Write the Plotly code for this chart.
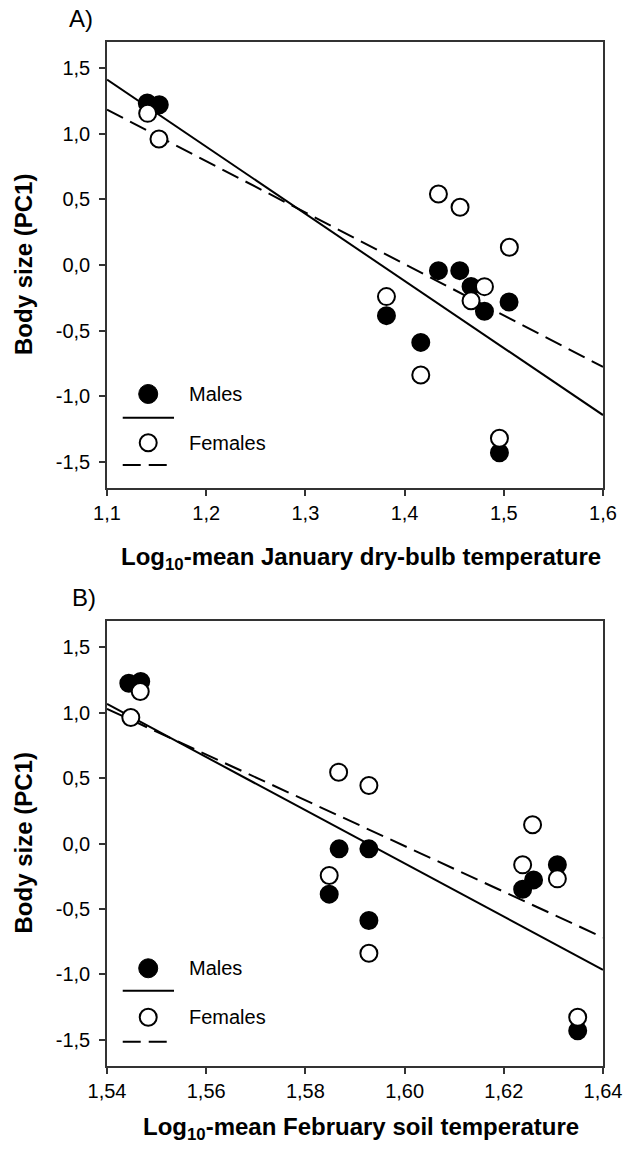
import plotly.graph_objects as go

# ---------------- data ----------------
# Panel A: Log10-mean January dry-bulb temperature
a_male_x = [1.1406, 1.1527, 1.4341, 1.4556, 1.4670, 1.4805, 1.5053, 1.3817, 1.4163, 1.4956]
a_male_y = [1.235, 1.222, -0.043, -0.043, -0.163, -0.353, -0.282, -0.386, -0.590, -1.431]
a_female_x = [1.1410, 1.1524, 1.4341, 1.4559, 1.5056, 1.4805, 1.4670, 1.3817, 1.4163, 1.4956]
a_female_y = [1.156, 0.961, 0.541, 0.440, 0.135, -0.165, -0.272, -0.241, -0.839, -1.321]
a_male_fit_x = [1.10, 1.60]
a_male_fit_y = [1.413, -1.144]
a_female_fit_x = [1.10, 1.60]
a_female_fit_y = [1.184, -0.777]

# Panel B: Log10-mean February soil temperature
b_male_x = [1.5444, 1.5468, 1.5868, 1.5928, 1.5848, 1.5928, 1.6238, 1.6260, 1.6308, 1.6349]
b_male_y = [1.225, 1.238, -0.041, -0.041, -0.387, -0.588, -0.349, -0.278, -0.163, -1.431]
b_female_x = [1.5467, 1.5448, 1.5867, 1.5928, 1.6258, 1.6238, 1.6308, 1.5848, 1.5928, 1.6349]
b_female_y = [1.161, 0.963, 0.545, 0.443, 0.143, -0.163, -0.270, -0.244, -0.838, -1.327]
b_male_fit_x = [1.54, 1.64]
b_male_fit_y = [1.067, -0.965]
b_female_fit_x = [1.54, 1.64]
b_female_fit_y = [1.029, -0.718]

y_tickvals = [-1.5, -1.0, -0.5, 0.0, 0.5, 1.0, 1.5]
y_ticktext = ["-1,5", "-1,0", "-0,5", "0,0", "0,5", "1,0", "1,5"]
a_x_tickvals = [1.1, 1.2, 1.3, 1.4, 1.5, 1.6]
a_x_ticktext = ["1,1", "1,2", "1,3", "1,4", "1,5", "1,6"]
b_x_tickvals = [1.54, 1.56, 1.58, 1.60, 1.62, 1.64]
b_x_ticktext = ["1,54", "1,56", "1,58", "1,60", "1,62", "1,64"]

legend_labels = ["Males", "Females"]
panel_labels = ["A)", "B)"]
x_titles = ["<b>Log<sub>10</sub>-mean January dry-bulb temperature</b>",
            "<b>Log<sub>10</sub>-mean February soil temperature</b>"]
y_title = "<b>Body size (PC1)</b>"

# ---------------- figure ----------------
W, H = 628, 1153
FONT = "Arial, Liberation Sans, sans-serif"
DASH = "18px,8px"
MS = 17

fig = go.Figure()


def add_panel(xa, ya, mx, my, fx, fy, mfx, mfy, ffx, ffy):
    fig.add_trace(go.Scatter(x=mfx, y=mfy, mode="lines", xaxis=xa, yaxis=ya,
                             line=dict(color="black", width=2), showlegend=False))
    fig.add_trace(go.Scatter(x=ffx, y=ffy, mode="lines", xaxis=xa, yaxis=ya,
                             line=dict(color="black", width=2, dash=DASH), showlegend=False))
    fig.add_trace(go.Scatter(x=mx, y=my, mode="markers", xaxis=xa, yaxis=ya,
                             marker=dict(size=MS, color="black", line=dict(color="black", width=2)),
                             showlegend=False))
    fig.add_trace(go.Scatter(x=fx, y=fy, mode="markers", xaxis=xa, yaxis=ya,
                             marker=dict(size=MS, color="white", line=dict(color="black", width=2)),
                             showlegend=False))


add_panel("x", "y", a_male_x, a_male_y, a_female_x, a_female_y,
          a_male_fit_x, a_male_fit_y, a_female_fit_x, a_female_fit_y)
add_panel("x2", "y2", b_male_x, b_male_y, b_female_x, b_female_y,
          b_male_fit_x, b_male_fit_y, b_female_fit_x, b_female_fit_y)

left, right = 107, 603
xdom = [left / W, right / W]
a_top, a_bot = 42, 488
b_top, b_bot = 621, 1066
ydomA = [1 - a_bot / H, 1 - a_top / H]
ydomB = [1 - b_bot / H, 1 - b_top / H]

axis_common = dict(showline=True, linecolor="#333", linewidth=1.5, mirror=True,
                   ticks="outside", ticklen=6, tickwidth=1.5, tickcolor="#333",
                   showgrid=False, zeroline=False, automargin=False,
                   tickfont=dict(family=FONT, size=20, color="black"))

fig.update_layout(
    width=W, height=H,
    margin=dict(l=0, r=0, t=0, b=0, pad=0, autoexpand=False),
    paper_bgcolor="white", plot_bgcolor="white",
    showlegend=False,
    font=dict(family=FONT, color="black"),
    xaxis=dict(domain=xdom, anchor="y", range=[1.1, 1.6],
               tickvals=a_x_tickvals, ticktext=a_x_ticktext, **axis_common),
    yaxis=dict(domain=ydomA, anchor="x", range=[-1.7, 1.7], ticklabelstandoff=5,
               tickvals=y_tickvals, ticktext=y_ticktext, **axis_common),
    xaxis2=dict(domain=xdom, anchor="y2", range=[1.54, 1.64],
                tickvals=b_x_tickvals, ticktext=b_x_ticktext, **axis_common),
    yaxis2=dict(domain=ydomB, anchor="x2", range=[-1.7, 1.7], ticklabelstandoff=5,
                tickvals=y_tickvals, ticktext=y_ticktext, **axis_common),
)

# ---------- panel labels, axis titles, legends ----------
panels = [
    dict(xr="x", yr="y", top=a_top, bot=a_bot, lab=(81, 19), xt_y=558,
         leg=dict(m=0.2108, ml=0.1576, f=0.1016, fl=0.0516)),
    dict(xr="x2", yr="y2", top=b_top, bot=b_bot, lab=(84, 598), xt_y=1128,
         leg=dict(m=0.2196, ml=0.1692, f=0.1094, fl=0.0546)),
]

for i, p in enumerate(panels):
    fig.add_annotation(text=panel_labels[i], xref="paper", yref="paper",
                       x=p["lab"][0] / W, y=1 - p["lab"][1] / H, showarrow=False,
                       xanchor="center", yanchor="middle",
                       font=dict(family=FONT, size=24, color="black"))
    fig.add_annotation(text=x_titles[i], xref="paper", yref="paper",
                       x=(left + right) / 2 / W + 0.01, y=1 - p["xt_y"] / H, showarrow=False,
                       xanchor="center", yanchor="middle",
                       font=dict(family=FONT, size=24, color="black"))
    fig.add_annotation(text=y_title, xref="paper", yref="paper", textangle=-90,
                       x=23 / W, y=1 - (p["top"] + p["bot"]) / 2 / H, showarrow=False,
                       xanchor="center", yanchor="middle",
                       font=dict(family=FONT, size=24, color="black"))

    xd = p["xr"] + " domain"
    yd = p["yr"] + " domain"
    lg = p["leg"]
    cx = 0.0831
    r = 9.5
    # Males marker + solid line
    fig.add_shape(type="circle", xref=xd, yref=yd, xsizemode="pixel", ysizemode="pixel",
                  xanchor=cx, yanchor=lg["m"], x0=-r, x1=r, y0=-r, y1=r,
                  fillcolor="black", line=dict(color="black", width=1))
    fig.add_shape(type="line", xref=xd, yref=yd, x0=0.0317, x1=0.1351, y0=lg["ml"], y1=lg["ml"],
                  line=dict(color="black", width=2))
    # Females marker + dashed line
    fig.add_shape(type="circle", xref=xd, yref=yd, xsizemode="pixel", ysizemode="pixel",
                  xanchor=cx, yanchor=lg["f"], x0=-r + 1, x1=r - 1, y0=-r + 1, y1=r - 1,
                  fillcolor="white", line=dict(color="black", width=2))
    fig.add_shape(type="line", xref=xd, yref=yd, x0=0.0317, x1=0.1210, y0=lg["fl"], y1=lg["fl"],
                  line=dict(color="black", width=2, dash=DASH))
    fig.add_annotation(text=legend_labels[0], xref=xd, yref=yd, x=0.1613, y=lg["m"],
                       showarrow=False, xanchor="left", yanchor="middle",
                       font=dict(family=FONT, size=20, color="black"))
    fig.add_annotation(text=legend_labels[1], xref=xd, yref=yd, x=0.1613, y=lg["f"],
                       showarrow=False, xanchor="left", yanchor="middle",
                       font=dict(family=FONT, size=20, color="black"))

fig.write_html("out.html")
